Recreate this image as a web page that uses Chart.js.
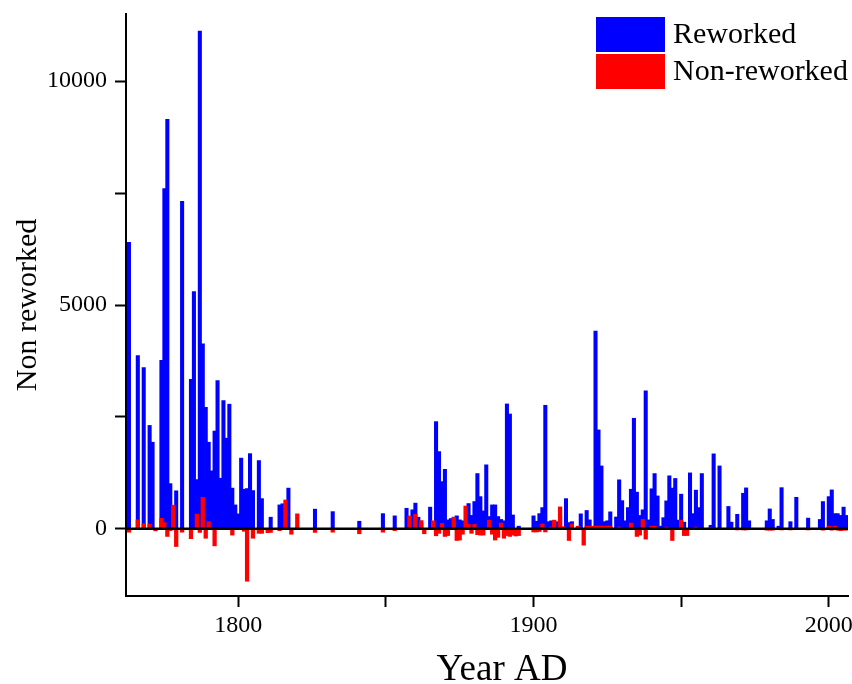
<!DOCTYPE html>
<html>
<head>
<meta charset="utf-8">
<script src="https://cdn.jsdelivr.net/npm/chart.js@4.4.1/dist/chart.umd.min.js"></script>
<style>
  body { margin: 0; background: #fff; }
</style>
</head>
<body>
<canvas id="myChart" width="852" height="684"></canvas>
<script>
// valeurs (annee -> nombre)
const reworkedYears = [1763,1766,1768,1770,1771,1774,1775,1776,1777,1779,1781,1784,1785,1786,1787,1788,1789,1790,1791,1792,1793,1794,1795,1796,1797,1798,1799,1800,1801,1802,1803,1804,1805,1807,1808,1811,1814,1815,1817,1826,1832,1841,1849,1853,1857,1859,1860,1861,1862,1865,1867,1868,1869,1870,1871,1872,1873,1874,1875,1876,1878,1879,1880,1881,1882,1883,1884,1885,1886,1887,1888,1889,1890,1891,1892,1893,1895,1900,1901,1902,1903,1904,1905,1906,1908,1909,1911,1912,1913,1916,1918,1919,1921,1922,1923,1924,1925,1926,1928,1929,1930,1931,1932,1933,1934,1935,1936,1937,1938,1939,1940,1941,1942,1943,1944,1945,1946,1947,1948,1949,1950,1951,1953,1954,1955,1956,1957,1960,1961,1963,1966,1967,1969,1971,1972,1973,1979,1980,1981,1983,1984,1987,1989,1993,1997,1998,2000,2001,2002,2003,2004,2005,2006]
const reworkedValues = [6400,3870,3600,2310,1935,3765,7600,9145,1010,850,7315,3340,5300,1100,11120,4130,2715,1935,1295,2185,3310,1130,2865,2025,2785,910,535,335,1580,885,900,1680,855,1525,675,260,535,560,910,440,385,170,340,290,460,425,575,260,120,485,2395,1725,1055,1330,200,230,260,290,200,180,565,300,610,1235,720,400,1430,275,535,535,275,210,180,2790,2565,310,60,290,170,340,475,2760,160,180,160,260,675,140,160,335,410,200,4420,2210,1405,160,180,380,265,1095,630,180,475,885,2470,820,300,425,3085,200,895,1235,735,60,250,625,1185,910,1125,195,775,150,1250,340,865,475,1235,80,1675,1405,500,150,325,795,915,180,180,445,210,60,920,160,705,240,210,610,720,870,340,340,300,485,300]

const nonReworkedYears = [1763,1766,1768,1770,1772,1774,1775,1776,1777,1778,1779,1781,1784,1786,1787,1788,1789,1790,1792,1798,1802,1803,1805,1807,1808,1810,1811,1814,1816,1818,1820,1826,1832,1841,1849,1853,1858,1860,1862,1863,1866,1867,1868,1869,1870,1871,1873,1874,1875,1876,1877,1878,1879,1880,1881,1882,1883,1885,1886,1887,1888,1889,1890,1891,1892,1893,1894,1895,1900,1901,1902,1903,1904,1906,1907,1909,1910,1912,1913,1915,1917,1918,1919,1920,1921,1922,1923,1924,1925,1926,1929,1933,1935,1936,1937,1938,1940,1941,1945,1947,1950,1951,1952,1955,1960,1969,1971,1972,1979,1980,1981,1984,1987,1993,1998,2000,2001,2002,2003,2004,2005,2006]
const nonReworkedValues = [-75,200,115,105,-45,235,140,-170,-40,530,-395,-75,-220,330,-80,705,-210,160,-380,-140,-55,-1170,-210,-100,-100,-85,-80,-40,645,-120,335,-80,-75,-110,-75,-40,290,325,185,-110,180,-155,-100,120,-170,-150,260,-260,-250,-120,510,100,-100,100,-130,-140,-140,195,-120,-250,-190,130,-210,-150,-170,-140,-160,-150,-70,-70,-60,110,-70,40,195,490,50,-260,110,60,-365,60,60,60,60,60,60,60,60,60,40,130,-170,-140,210,-230,60,60,40,-260,195,-150,-150,40,30,-25,-25,-25,-30,-30,-30,-25,-25,-25,-30,60,-30,60,-30,-40,-30,-30]

// graduations
const yearTicks = [1800, 1850, 1900, 1950, 2000]
const yearLabels = [1800, 1900, 2000]
const valueTicks = [0, 2500, 5000, 7500, 10000]
const valueLabels = [0, 5000, 10000]

const xTitle = 'Year AD'
const serif = 'Liberation Serif'

const toPoints = (years, values) => years.map((y, i) => ({x: y, y: values[i]}))

// ligne du zero par dessus les barres
const zeroLine = {
  id: 'zeroLine',
  afterDatasetsDraw(chart) {
    const ctx = chart.ctx
    const area = chart.chartArea
    const y0 = chart.scales.y.getPixelForValue(0)
    ctx.save()
    ctx.strokeStyle = '#000'
    ctx.lineWidth = 2.5
    ctx.beginPath()
    ctx.moveTo(area.left, y0)
    ctx.lineTo(area.right, y0)
    ctx.stroke()
    ctx.restore()
  }
}

// legende en haut a droite + titre de l'axe x (un peu decale a droite comme l'original)
const boxLegend = {
  id: 'boxLegend',
  afterDraw(chart) {
    const ctx = chart.ctx
    ctx.save()
    chart.data.datasets.forEach((ds, i) => {
      const top = 17 + i * 37
      ctx.fillStyle = ds.backgroundColor
      ctx.fillRect(596, top, 69, 35)
      ctx.fillStyle = '#000'
      ctx.font = '30px "' + serif + '"'
      ctx.textBaseline = 'middle'
      ctx.textAlign = 'left'
      ctx.fillText(ds.label, 673, top + 18)
    })
    ctx.font = '37px "' + serif + '"'
    ctx.textAlign = 'center'
    ctx.textBaseline = 'alphabetic'
    ctx.fillText(xTitle, 502, 680)
    ctx.restore()
  }
}

const axisGrid = {display: true, offset: false, drawOnChartArea: false, drawTicks: true, tickLength: 11, tickWidth: 2, tickColor: '#000'}
const axisBorder = {display: true, color: '#000', width: 2}

const ctx = document.getElementById('myChart').getContext('2d')
const myChart = new Chart(ctx, {
  type: 'bar',
  data: {
    datasets: [{
      label: 'Reworked',
      data: toPoints(reworkedYears, reworkedValues),
      backgroundColor: '#0000ff',
      borderWidth: 0,
      barThickness: 3.4,
      grouped: false,
      order: 2
    }, {
      label: 'Non-reworked',
      data: toPoints(nonReworkedYears, nonReworkedValues),
      backgroundColor: '#ff0000',
      borderWidth: 0,
      barThickness: 3.6,
      grouped: false,
      order: 1
    }]
  },
  options: {
    responsive: false,
    animation: false,
    devicePixelRatio: 1,
    layout: {padding: {top: 14, right: 4, left: 0, bottom: 0}},
    plugins: {legend: {display: false}, tooltip: {enabled: false}},
    scales: {
      x: {
        type: 'linear',
        min: 1762,
        max: 2006.5,
        offset: false,
        afterBuildTicks: s => { s.ticks = yearTicks.map(v => ({value: v})) },
        afterFit: s => { s.height = 88; s.paddingLeft = 0; s.paddingRight = 0 },
        grid: axisGrid,
        border: axisBorder,
        ticks: {
          color: '#000', font: {family: serif, size: 24}, padding: 4,
          maxRotation: 0, autoSkip: false,
          callback: v => yearLabels.includes(v) ? String(v) : ''
        }
      },
      y: {
        min: -1500,
        max: 11500,
        afterBuildTicks: s => { s.ticks = valueTicks.map(v => ({value: v})) },
        afterFit: s => { s.width = 126; s.paddingTop = 0; s.paddingBottom = 0 },
        grid: axisGrid,
        border: axisBorder,
        ticks: {
          color: '#000', font: {family: serif, size: 24}, padding: 8,
          callback: v => valueLabels.includes(v) ? String(v) : ''
        },
        title: {display: true, text: 'Non reworked', color: '#000',
          font: {family: serif, size: 30, lineHeight: 1.2}, padding: {top: 10, bottom: 0}}
      }
    }
  },
  plugins: [zeroLine, boxLegend]
})
</script>
</body>
</html>
